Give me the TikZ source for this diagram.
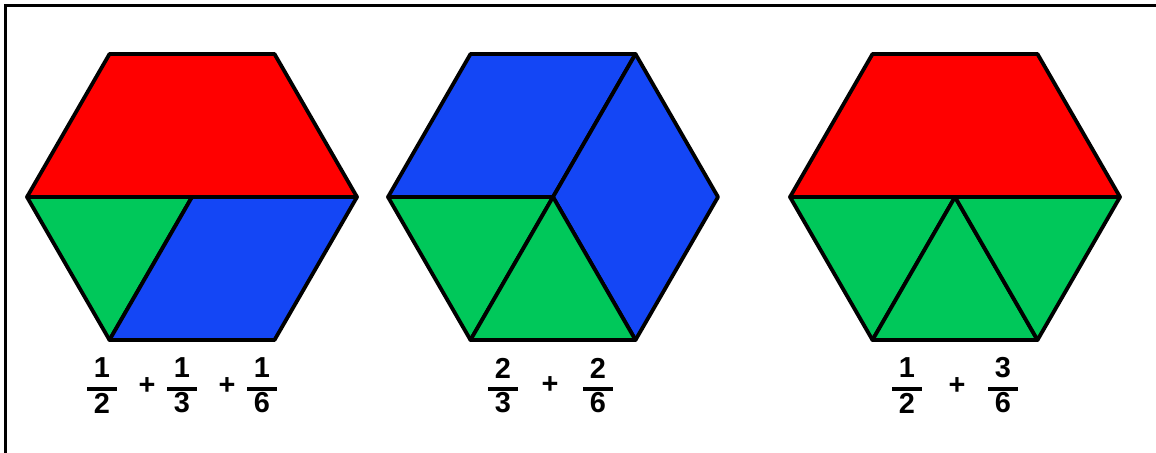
\documentclass[tikz,border=0pt]{standalone}
\usepackage{fontspec}
\setmainfont{Liberation Sans}
\usetikzlibrary{calc}
\definecolor{pbred}{RGB}{255,0,0}
\definecolor{pbgreen}{RGB}{0,200,90}
\definecolor{pbblue}{RGB}{20,70,245}
\tikzset{
  piece/.style={draw=black,line width=3.8bp,line join=round},
  redp/.style={piece,fill=pbred},       % half
  bluep/.style={piece,fill=pbblue},     % third
  greenp/.style={piece,fill=pbgreen},   % sixth
  digit/.style={font=\fontsize{29}{29}\selectfont\bfseries,inner sep=0pt},
  fbar/.style={line width=4bp},
  frame/.style={line width=3.5bp},
}
\begin{document}
\begin{tikzpicture}[x=1bp,y=-1bp]
  \useasboundingbox (0,0) rectangle (1156,453);
  \draw[frame] (5.5,453) -- (5.5,5.5) -- (1156,5.5);

  % hexagon corners
  \foreach \n/\cx in {a/192,b/553,c/955}{
    \coordinate (\n L)  at (\cx-165,197);
    \coordinate (\n TL) at (\cx-82.5,54);
    \coordinate (\n TR) at (\cx+82.5,54);
    \coordinate (\n R)  at (\cx+165,197);
    \coordinate (\n BR) at (\cx+82.5,340);
    \coordinate (\n BL) at (\cx-82.5,340);
    \coordinate (\n O)  at (\cx,197);
  }

  % 1/2 + 1/3 + 1/6
  \draw[redp] (aL) -- (aTL) -- (aTR) -- (aR) -- cycle;
  \draw[greenp] (aL) -- (aO) -- (aBL) -- cycle;
  \draw[bluep] (aO) -- (aR) -- (aBR) -- (aBL) -- cycle;

  % 2/3 + 2/6
  \draw[bluep] (bL) -- (bTL) -- (bTR) -- (bO) -- cycle;
  \draw[bluep] (bO) -- (bTR) -- (bR) -- (bBR) -- cycle;
  \draw[greenp] (bL) -- (bO) -- (bBL) -- cycle;
  \draw[greenp] (bBL) -- (bO) -- (bBR) -- cycle;

  % 1/2 + 3/6
  \draw[redp] (cL) -- (cTL) -- (cTR) -- (cR) -- cycle;
  \draw[greenp] (cL) -- (cO) -- (cBL) -- cycle;
  \draw[greenp] (cBL) -- (cO) -- (cBR) -- cycle;
  \draw[greenp] (cO) -- (cR) -- (cBR) -- cycle;

  % fractions
  \foreach \x/\nu/\de in {102/1/2,182/1/3,262/1/6,503/2/3,598/2/6,907/1/2,1003/3/6}{
    \node[digit] (num\x) at (\x,368) {\nu};
    \node[digit] (den\x) at (\x,403) {\de};
    \draw[fbar] (\x-15,389) -- (\x+15,389);
  }
  \node[digit] (plusa) at (147,386) {+};
  \node[digit] (plusb) at (227,386) {+};
  \node[digit] (plusc) at (550,385) {+};
  \node[digit] (plusd) at (957,386) {+};
\end{tikzpicture}
\end{document}
